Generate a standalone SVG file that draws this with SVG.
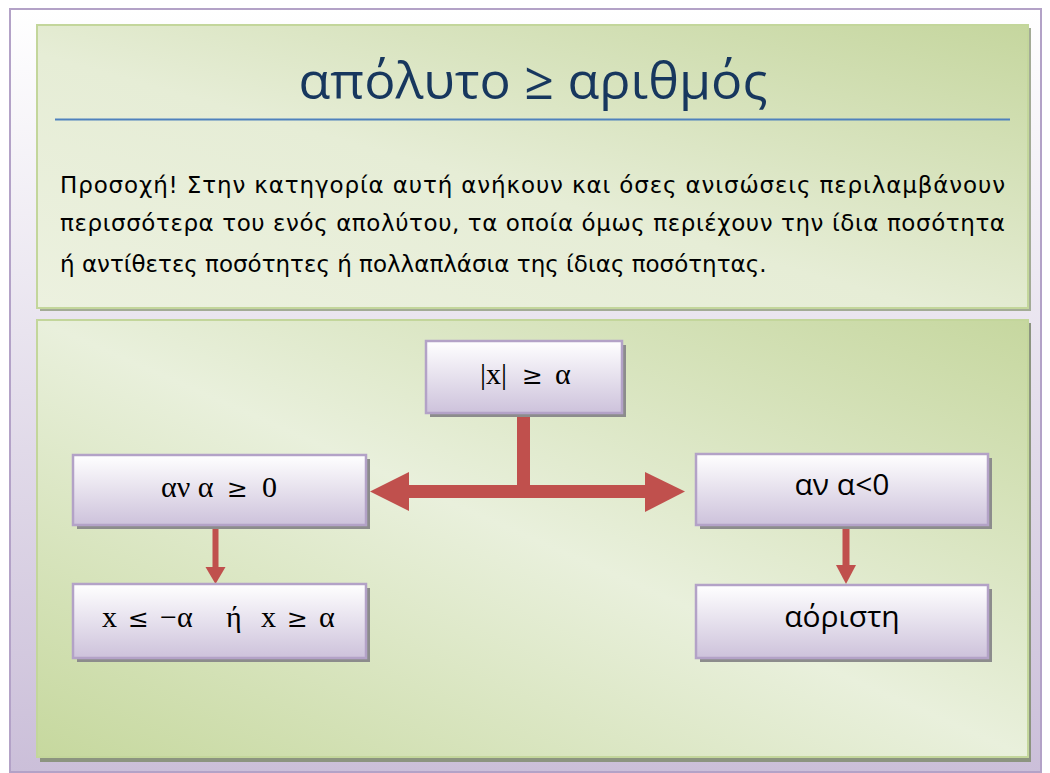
<svg xmlns="http://www.w3.org/2000/svg" width="1050" height="773" viewBox="0 0 1050 773">
<defs>
<linearGradient id="frameG" x1="0" y1="0" x2="0" y2="1">
<stop offset="0" stop-color="#ffffff"/>
<stop offset="1" stop-color="#cbbfd9"/>
</linearGradient>
<linearGradient id="topG" x1="0" y1="1" x2="1" y2="0">
<stop offset="0" stop-color="#ecf1df"/>
<stop offset="0.45" stop-color="#e6edd6"/>
<stop offset="1" stop-color="#c5d69e"/>
</linearGradient>
<linearGradient id="botG" x1="0" y1="1" x2="1" y2="0">
<stop offset="0" stop-color="#c6d89e"/>
<stop offset="0.5" stop-color="#e9f0dc"/>
<stop offset="1" stop-color="#c6d79f"/>
</linearGradient>
<linearGradient id="nodeG" x1="0" y1="0" x2="0" y2="1">
<stop offset="0" stop-color="#ffffff"/>
<stop offset="1" stop-color="#cdc2db"/>
</linearGradient>
</defs>
<style>
.node rect.box{fill:url(#nodeG);stroke:#b3a2c7;stroke-width:2.5}
.node rect.sh{fill:#8c8c8c}
.lbl{font-size:30px;fill:#000}
.serif{font-family:"Liberation Serif","DejaVu Serif",serif}
.sans{font-family:"Open Sans","Noto Sans",sans-serif}
.rel{font-family:"DejaVu Serif",serif;font-size:25px}
.conn{fill:#c0504d}
</style>
<rect x="10" y="9" width="1031" height="763" fill="url(#frameG)" stroke="#b3a2c7" stroke-width="2"/>
<g id="top-panel">
<rect x="40" y="28" width="991" height="283" fill="#a3ab96"/>
<rect x="37" y="25" width="991" height="283" fill="url(#topG)" stroke="#c3d69b" stroke-width="2"/>
<text x="533" y="99" font-family="Open Sans,'Noto Sans',sans-serif" font-size="52" fill="#17375e" text-anchor="middle">απόλυτο ≥ αριθμός</text>
<line x1="55" y1="119.5" x2="1010" y2="119.5" stroke="#4f81bd" stroke-width="2"/>
<g font-family="'DejaVu Sans',Verdana,sans-serif" font-size="23" fill="#000">
<text x="60" y="193" textLength="945" lengthAdjust="spacing">Προσοχή! Στην κατηγορία αυτή ανήκουν και όσες ανισώσεις περιλαμβάνουν</text>
<text x="60" y="231" textLength="945" lengthAdjust="spacing">περισσότερα του ενός απολύτου, τα οποία όμως περιέχουν την ίδια ποσότητα</text>
<text x="60" y="272">ή αντίθετες ποσότητες ή πολλαπλάσια της ίδιας ποσότητας.</text>
</g>
</g>
<g id="bottom-panel">
<rect x="40" y="323" width="991" height="439" fill="#8c9480"/>
<rect x="37" y="320" width="991" height="437" fill="url(#botG)" stroke="#c3d69b" stroke-width="2"/>
</g>
<g id="connectors">
<rect class="conn" x="517" y="413" width="13" height="85"/>
<rect class="conn" x="406" y="485" width="241" height="13"/>
<polygon class="conn" points="370,491.5 409,472 409,511"/>
<polygon class="conn" points="685,491.5 645,472 645,512"/>
<rect class="conn" x="212.5" y="525" width="6" height="44"/>
<polygon class="conn" points="205.5,567 225.5,567 215.5,584"/>
<rect class="conn" x="842.5" y="525" width="7" height="42"/>
<polygon class="conn" points="836,565 856,565 846,584"/>
</g>
<g id="node-abs" class="node">
<rect class="sh" x="430" y="345" width="196" height="72"/>
<rect class="box" x="426" y="341" width="196" height="72"/>
<text class="lbl serif" y="384"><tspan x="480">|x|</tspan><tspan class="rel" x="522">≥</tspan><tspan x="555">α</tspan></text>
</g>
<g id="node-pos" class="node">
<rect class="sh" x="77" y="459" width="293" height="70"/>
<rect class="box" x="73" y="455" width="293" height="70"/>
<text class="lbl serif" y="497"><tspan x="161">αν α</tspan><tspan class="rel" x="227">≥</tspan><tspan x="262">0</tspan></text>
</g>
<g id="node-neg" class="node">
<rect class="sh" x="700" y="458" width="292" height="71"/>
<rect class="box" x="696" y="454" width="292" height="71"/>
<text class="lbl sans" x="842" y="495" font-size="25" text-anchor="middle">αν α&lt;0</text>
</g>
<g id="node-sol" class="node">
<rect class="sh" x="77" y="588" width="293" height="74"/>
<rect class="box" x="73" y="584" width="293" height="74"/>
<text class="lbl serif" y="627"><tspan x="102">x</tspan><tspan class="rel" x="128">≤</tspan><tspan x="160">−α</tspan><tspan x="226">ή</tspan><tspan x="261">x</tspan><tspan class="rel" x="287">≥</tspan><tspan x="319">α</tspan></text>
</g>
<g id="node-undef" class="node">
<rect class="sh" x="700" y="589" width="292" height="73"/>
<rect class="box" x="696" y="585" width="292" height="73"/>
<text class="lbl sans" x="842" y="627" font-size="25" text-anchor="middle">αόριστη</text>
</g>
</svg>
